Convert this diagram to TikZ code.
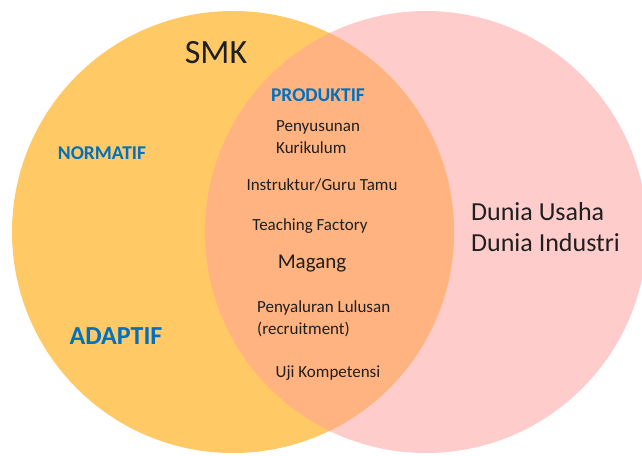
\documentclass[tikz,border=0pt]{standalone}
\usepackage{fontspec}
\setmainfont{Carlito}
\definecolor{smkfill}{HTML}{FFC966}
\definecolor{dudifill}{HTML}{FFCCCC}
\definecolor{bothfill}{HTML}{FFB381}
\definecolor{labelblue}{HTML}{0070C0}

\begin{document}
\begin{tikzpicture}
[x=1pt,y=-1pt,every node/.style={inner sep=0pt,text=black!88,font=\fontsize{17}{22}\selectfont},
group/.style={text=labelblue,font=\bfseries\fontsize{19.5}{23}\selectfont},
item/.style={align=left,anchor=west}]

\useasboundingbox (0,0) rectangle (642,455);
%\draw[red] (0,0) rectangle (642,455);
\coordinate (SMKc) at (233,232);
\coordinate (DUDIc) at (426,232);
\fill[dudifill] (DUDIc) circle (221pt);
\fill[smkfill] (SMKc) circle (221pt);
\begin{scope}
\clip (SMKc) circle (221pt);
\fill[bothfill] (DUDIc) circle (221pt);
\end{scope}

\node (SMK) at (216,53) {\fontsize{34}{40}\selectfont SMK};
\node[group] (Produktif) at (318,95) {PRODUKTIF};
\node[group] (Normatif) at (102,153) {NORMATIF};
\node[group,font=\bfseries\fontsize{26}{30}\selectfont] (Adaptif) at (116,336) {ADAPTIF};

\node[item] (Kurikulum) at (276,137) {Penyusunan\\Kurikulum};
\node (Instruktur) at (322,185) {Instruktur/Guru Tamu};
\node (Tefa) at (310,226) {Teaching Factory};
\node[font=\fontsize{21}{25}\selectfont] (Magang) at (312,264) {Magang};
\node[item] (Lulusan) at (257,319) {Penyaluran Lulusan\\(recruitment)};
\node (Ujikom) at (328,373) {Uji Kompetensi};

\node[item,font=\fontsize{26}{31}\selectfont] (Dudi) at (471,227) {Dunia Usaha\\Dunia Industri};
\end{tikzpicture}
\end{document}
